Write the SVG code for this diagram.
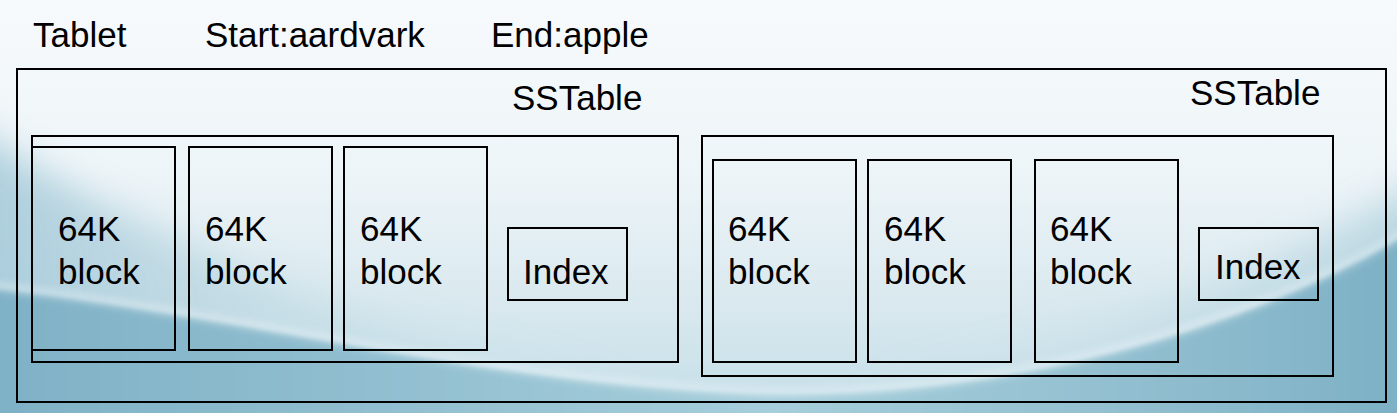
<svg xmlns="http://www.w3.org/2000/svg" width="1397" height="413" viewBox="0 0 1397 413">
<defs>
<linearGradient id="bg" x1="0" y1="0" x2="0" y2="1">
<stop offset="0" stop-color="#f7fafc"/>
<stop offset="0.4" stop-color="#eef5f8"/>
<stop offset="0.75" stop-color="#d8e8ee"/>
<stop offset="1" stop-color="#c4dee8"/>
</linearGradient>
<linearGradient id="waveH" x1="0" y1="0" x2="1" y2="0">
<stop offset="0" stop-color="#7fb1c6"/>
<stop offset="0.3" stop-color="#93c0d1"/>
<stop offset="0.55" stop-color="#a6cedb"/>
<stop offset="0.8" stop-color="#92bfd0"/>
<stop offset="1" stop-color="#7db0c5"/>
</linearGradient>
<linearGradient id="glowL" x1="0" y1="0" x2="1" y2="0">
<stop offset="0" stop-color="#9ac3d4"/>
<stop offset="1" stop-color="#c8e0e9" stop-opacity="0"/>
</linearGradient>
<linearGradient id="glowR" x1="1" y1="0" x2="0" y2="0">
<stop offset="0" stop-color="#a3c9d8"/>
<stop offset="1" stop-color="#c8e0e9" stop-opacity="0"/>
</linearGradient>
<filter id="blur20" x="-20%" y="-20%" width="140%" height="140%"><feGaussianBlur stdDeviation="18"/></filter>
<filter id="blur2" x="-5%" y="-5%" width="110%" height="110%"><feGaussianBlur stdDeviation="2"/></filter>
<filter id="blur4" x="-5%" y="-20%" width="110%" height="140%"><feGaussianBlur stdDeviation="4"/></filter>
<style>
.box{fill:none;stroke:#000;stroke-width:2}
.t{font-family:"Liberation Sans",Arial,sans-serif;font-size:35px;fill:#000}
</style>
</defs>
<g id="background">
<rect x="0" y="0" width="1397" height="413" fill="url(#bg)"/>
<path d="M-40,120 C80,200 300,320 650,380 L650,440 L-40,440 Z" fill="url(#glowL)" filter="url(#blur20)" opacity="0.8"/>
<path d="M1440,170 C1300,260 1100,340 850,380 L850,440 L1440,440 Z" fill="url(#glowR)" filter="url(#blur20)" opacity="0.7"/>
<path d="M-10,288 C250,318 500,386 760,394 C1000,400 1250,330 1410,232 L1410,420 L-10,420 Z" fill="url(#waveH)" filter="url(#blur2)"/>
<path d="M-10,286 C250,316 500,384 760,392 C1000,398 1250,328 1410,230" fill="none" stroke="#ffffff" stroke-opacity="0.4" stroke-width="7" filter="url(#blur4)"/>
</g>
<g id="header">
<text class="t" x="33" y="47">Tablet</text>
<text class="t" x="205" y="47">Start:aardvark</text>
<text class="t" x="491" y="47">End:apple</text>
</g>
<g id="tablet">
<rect class="box" x="17" y="69" width="1369" height="333"/>
</g>
<g id="sstable1">
<text class="t" x="512" y="110">SSTable</text>
<rect class="box" x="32" y="136" width="646" height="226"/>
</g>
<g id="s1b1"><rect class="box" x="32" y="147" width="143" height="203"/><text class="t" x="58" y="241">64K</text><text class="t" x="58" y="284">block</text></g>
<g id="s1b2"><rect class="box" x="189" y="147" width="143" height="203"/><text class="t" x="205" y="241">64K</text><text class="t" x="205" y="284">block</text></g>
<g id="s1b3"><rect class="box" x="344" y="147" width="143" height="203"/><text class="t" x="360" y="241">64K</text><text class="t" x="360" y="284">block</text></g>
<g id="s1idx"><rect class="box" x="508" y="228" width="119" height="72"/><text class="t" x="523" y="284">Index</text></g>
<g id="sstable2">
<text class="t" x="1190" y="105">SSTable</text>
<rect class="box" x="702" y="136" width="631" height="240"/>
</g>
<g id="s2b1"><rect class="box" x="713" y="160" width="143" height="202"/><text class="t" x="728" y="241">64K</text><text class="t" x="728" y="284">block</text></g>
<g id="s2b2"><rect class="box" x="868" y="160" width="143" height="202"/><text class="t" x="884" y="241">64K</text><text class="t" x="884" y="284">block</text></g>
<g id="s2b3"><rect class="box" x="1035" y="160" width="143" height="202"/><text class="t" x="1050" y="241">64K</text><text class="t" x="1050" y="284">block</text></g>
<g id="s2idx"><rect class="box" x="1199" y="228" width="119" height="72"/><text class="t" x="1215" y="279">Index</text></g>
<g id="connectors"/>
</svg>
